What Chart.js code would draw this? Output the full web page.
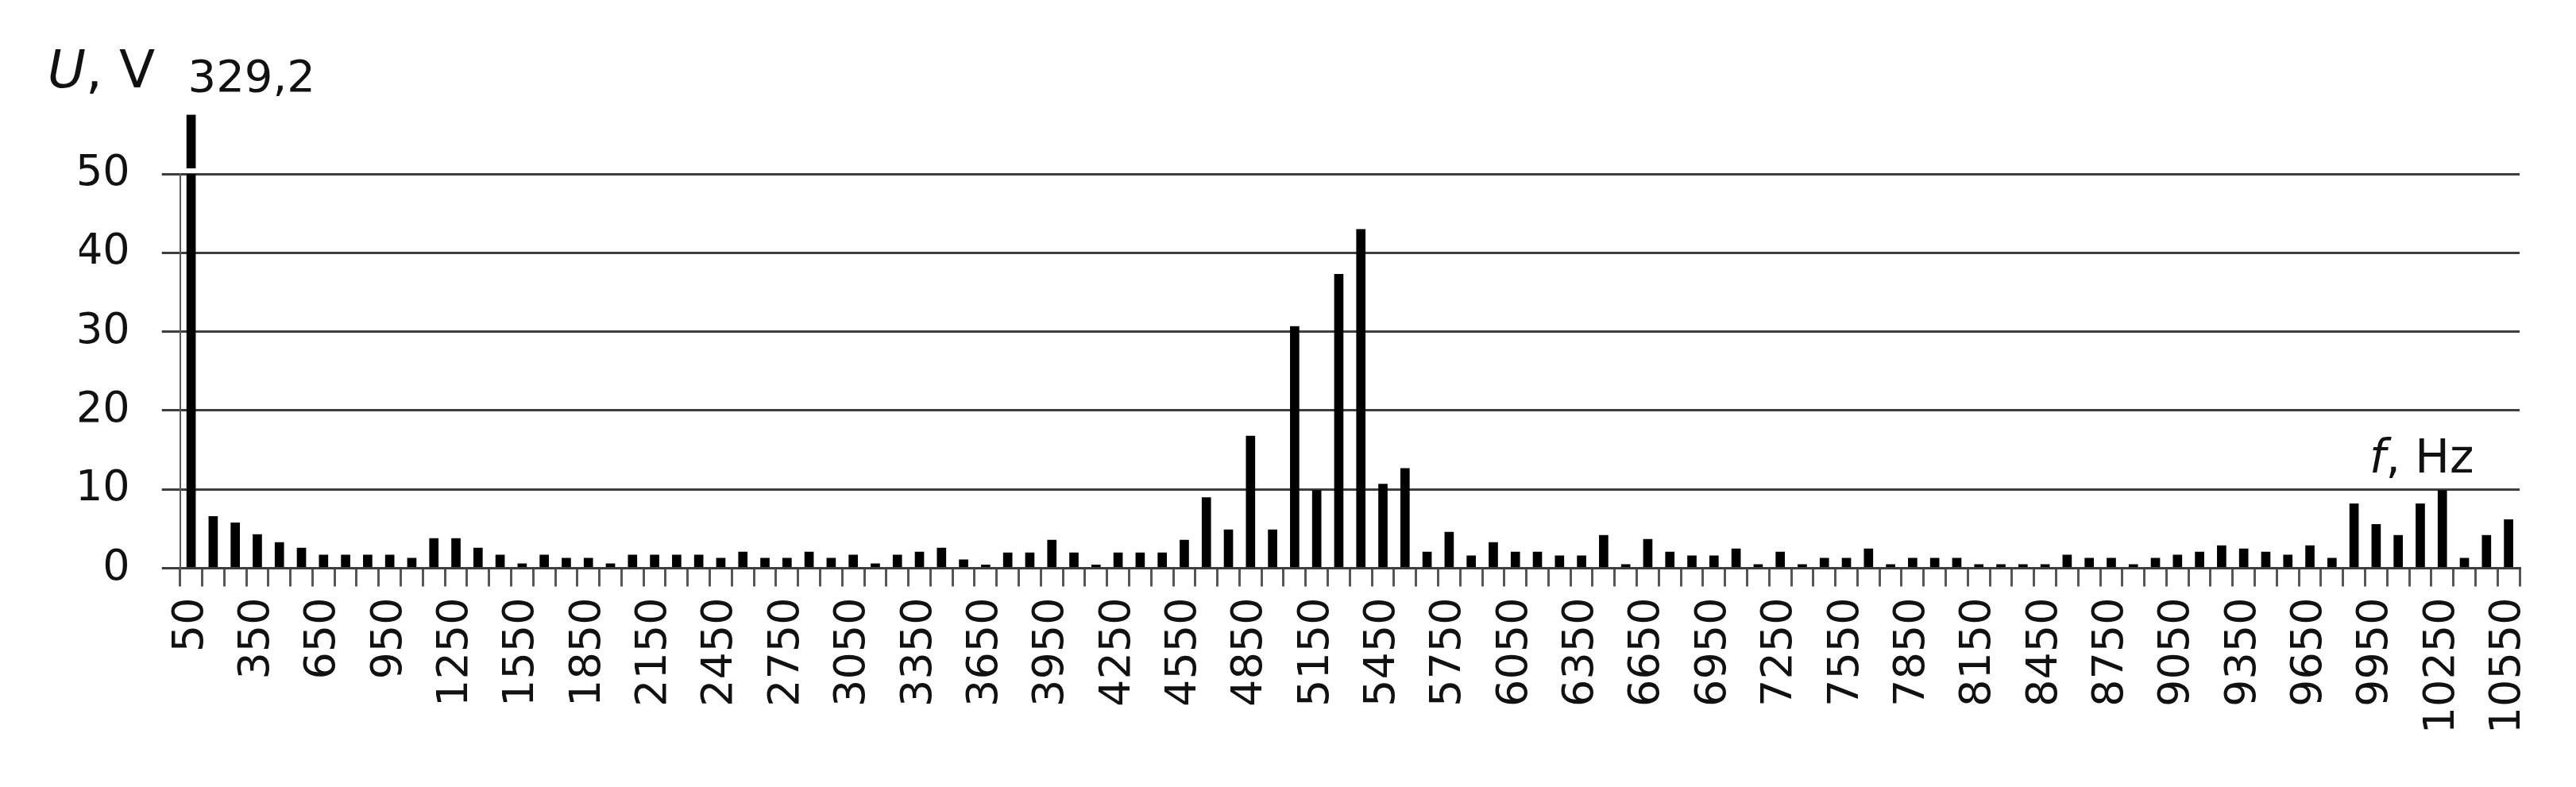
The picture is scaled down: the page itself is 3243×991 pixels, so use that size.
<!DOCTYPE html>
<html>
<head>
<meta charset="utf-8">
<script src="https://cdn.jsdelivr.net/npm/chart.js@4.4.1/dist/chart.umd.min.js"></script>
<style>
  html, body { margin: 0; padding: 0; background: #ffffff; }
  canvas { display: block; }
</style>
</head>
<body>
<canvas id="c" width="3243" height="991"></canvas>
<script>
// ---- data ----
const frequencies = [
  50, 150, 250, 350, 450, 550, 650, 750, 850, 950,
  1050, 1150, 1250, 1350, 1450, 1550, 1650, 1750, 1850, 1950,
  2050, 2150, 2250, 2350, 2450, 2550, 2650, 2750, 2850, 2950,
  3050, 3150, 3250, 3350, 3450, 3550, 3650, 3750, 3850, 3950,
  4050, 4150, 4250, 4350, 4450, 4550, 4650, 4750, 4850, 4950,
  5050, 5150, 5250, 5350, 5450, 5550, 5650, 5750, 5850, 5950,
  6050, 6150, 6250, 6350, 6450, 6550, 6650, 6750, 6850, 6950,
  7050, 7150, 7250, 7350, 7450, 7550, 7650, 7750, 7850, 7950,
  8050, 8150, 8250, 8350, 8450, 8550, 8650, 8750, 8850, 8950,
  9050, 9150, 9250, 9350, 9450, 9550, 9650, 9750, 9850, 9950,
  10050, 10150, 10250, 10350, 10450, 10550
];
const voltages = [
  329.2, 6.6, 5.8, 4.3, 3.3, 2.6, 1.7, 1.7, 1.7, 1.7,
  1.3, 3.8, 3.8, 2.6, 1.7, 0.6, 1.7, 1.3, 1.3, 0.6,
  1.7, 1.7, 1.7, 1.7, 1.3, 2.1, 1.3, 1.3, 2.1, 1.3,
  1.7, 0.6, 1.7, 2.1, 2.6, 1.1, 0.45, 2.0, 2.0, 3.6,
  2.0, 0.45, 2.0, 2.0, 2.0, 3.6, 9.0, 4.9, 16.8, 4.9,
  30.7, 9.9, 37.3, 43.0, 10.7, 12.7, 2.1, 4.6, 1.6, 3.3,
  2.1, 2.1, 1.6, 1.6, 4.2, 0.5, 3.7, 2.1, 1.6, 1.6,
  2.5, 0.5, 2.1, 0.5, 1.3, 1.3, 2.5, 0.5, 1.3, 1.3,
  1.3, 0.5, 0.5, 0.5, 0.5, 1.7, 1.3, 1.3, 0.5, 1.3,
  1.7, 2.1, 2.9, 2.5, 2.1, 1.7, 2.9, 1.3, 8.2, 5.6,
  4.2, 8.2, 9.9, 1.3, 4.2, 6.2
];
const shownFrequencyTicks = [
  50, 350, 650, 950, 1250, 1550, 1850, 2150, 2450, 2750,
  3050, 3350, 3650, 3950, 4250, 4550, 4850, 5150, 5450, 5750,
  6050, 6350, 6650, 6950, 7250, 7550, 7850, 8150, 8450, 8750,
  9050, 9350, 9650, 9950, 10250, 10550
];
const voltageTicks = [0, 10, 20, 30, 40, 50];
const fundamentalValueLabel = '329,2';
const brokenBarStub = [50.7, 57.5];   // value range of the stub drawn above the axis break

// ---- derived ----
const stubData = frequencies.map((f, i) => (i === 0 ? brokenBarStub : null));
const shownSet = new Set(shownFrequencyTicks);

const FONT = '"DejaVu Sans", Verdana, sans-serif';
const GRID = '#3e3e3e';
const TEXT = '#111111';

const textPlugin = {
  id: 'annotTexts',
  afterDraw(chart) {
    const { ctx, chartArea } = chart;
    const ys = chart.scales.y;
    const bar0 = chart.getDatasetMeta(0).data[0];
    ctx.save();
    ctx.fillStyle = TEXT;
    ctx.textBaseline = 'alphabetic';
    ctx.textAlign = 'left';

    // y-axis title "U, V"
    let px = chartArea.left - 167;
    let py = ys.getPixelForValue(57.5) - 35;
    ctx.font = 'oblique 66px ' + FONT;
    ctx.fillText('U', px, py);
    px += ctx.measureText('U').width;
    ctx.font = '66px ' + FONT;
    ctx.fillText(', V', px, py);

    // value of the broken fundamental bar
    ctx.font = '56px ' + FONT;
    ctx.fillText(fundamentalValueLabel, bar0.x - 4, ys.getPixelForValue(57.5) - 30);

    // x-axis title "f, Hz"
    px = chartArea.right - 189;
    py = ys.getPixelForValue(12.1);
    ctx.font = 'oblique 58px ' + FONT;
    ctx.fillText('f', px, py);
    px += ctx.measureText('f').width;
    ctx.font = '58px ' + FONT;
    ctx.fillText(', Hz', px, py);
    ctx.restore();
  }
};

new Chart(document.getElementById('c'), {
  type: 'bar',
  data: {
    labels: frequencies,
    datasets: [
      {
        data: voltages,
        backgroundColor: '#000000',
        borderWidth: 0,
        grouped: false,
        barPercentage: 0.42,
        categoryPercentage: 1.0,
        clip: 0
      },
      {
        data: stubData,
        backgroundColor: '#000000',
        borderWidth: 0,
        grouped: false,
        barPercentage: 0.42,
        categoryPercentage: 1.0,
        clip: false
      }
    ]
  },
  options: {
    responsive: false,
    devicePixelRatio: 1,
    animation: false,
    layout: { padding: { left: 100, right: 71, top: 219, bottom: 20 } },
    plugins: { legend: { display: false }, tooltip: { enabled: false }, title: { display: false } },
    scales: {
      x: {
        type: 'category',
        offset: true,
        grid: {
          display: true,
          offset: true,
          drawOnChartArea: false,
          drawTicks: true,
          tickLength: 23,
          color: '#555555',
          lineWidth: 3
        },
        border: { display: true, color: GRID, width: 3 },
        ticks: {
          autoSkip: false,
          minRotation: 90,
          maxRotation: 90,
          padding: 14,
          color: TEXT,
          font: { family: FONT, size: 54 },
          callback: function (value, index) {
            const f = frequencies[index];
            return shownSet.has(f) ? String(f) : '';
          }
        },
        afterFit(scale) { scale.height = 255.5; }
      },
      y: {
        type: 'linear',
        min: voltageTicks[0],
        max: voltageTicks[voltageTicks.length - 1],
        grid: {
          display: true,
          drawTicks: true,
          tickLength: 23,
          color: GRID,
          lineWidth: 3
        },
        border: { display: true, color: '#5a5a5a', width: 2 },
        ticks: {
          stepSize: 10,
          padding: 40,
          color: TEXT,
          font: { family: FONT, size: 54 }
        },
        afterBuildTicks(scale) {
          scale.ticks = voltageTicks.map(v => ({ value: v }));
        },
        afterFit(scale) { scale.width = 126.7; }
      }
    }
  },
  plugins: [textPlugin]
});
</script>
</body>
</html>
